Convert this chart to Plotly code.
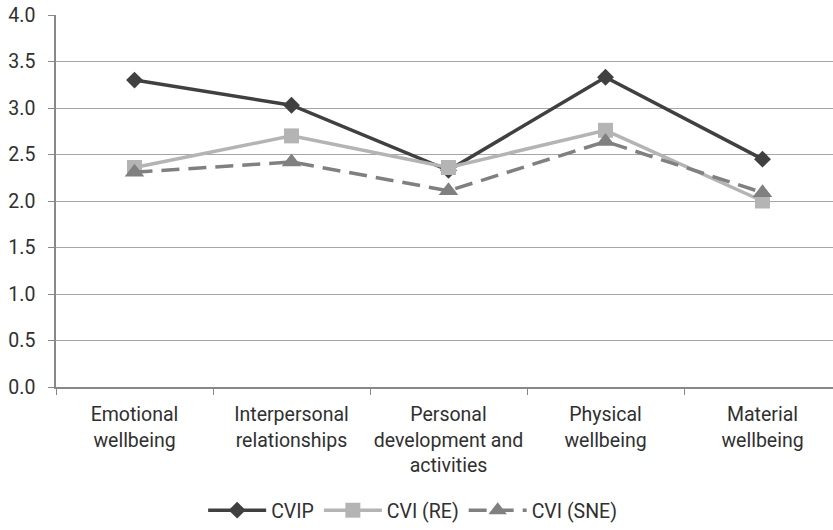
import plotly.graph_objects as go

categories = ["Emotional<br>wellbeing", "Interpersonal<br>relationships",
              "Personal<br>development and<br>activities", "Physical<br>wellbeing",
              "Material<br>wellbeing"]
cvip = [3.30, 3.03, 2.33, 3.33, 2.45]
cvi_re = [2.36, 2.70, 2.36, 2.76, 2.00]
cvi_sne = [2.31, 2.42, 2.11, 2.64, 2.09]
y_ticks = [0.0, 0.5, 1.0, 1.5, 2.0, 2.5, 3.0, 3.5, 4.0]

fig = go.Figure()
fig.add_trace(go.Scatter(x=categories, y=cvip, name="CVIP", mode="lines+markers",
                         line=dict(color="#404040", width=3.5),
                         marker=dict(symbol="diamond", size=13, color="#404040")))
fig.add_trace(go.Scatter(x=categories, y=cvi_re, name="CVI (RE)", mode="lines+markers",
                         line=dict(color="#b4b4b4", width=3.5),
                         marker=dict(symbol="square", size=15, color="#b4b4b4")))
fig.add_trace(go.Scatter(x=categories, y=cvi_sne, name="CVI (SNE)", mode="lines+markers",
                         line=dict(color="#808080", width=3.5, dash="18px,9px"),
                         marker=dict(symbol="triangle-up", size=17, color="#808080")))

font = dict(family="Roboto, Liberation Sans, sans-serif", size=19.5, color="#303030")
fig.update_layout(
    width=833, height=530,
    margin=dict(l=56, r=0, t=15, b=138),
    paper_bgcolor="white", plot_bgcolor="white",
    font=font,
    showlegend=True,
    legend=dict(orientation="h", x=0.459, xanchor="center", y=-0.332, yanchor="middle",
                font=font, itemwidth=58),
    xaxis=dict(type="category", range=[-0.5, 4.449], tickson="boundaries",
               ticks="outside", ticklen=6, tickcolor="#888888", tickangle=0,
               ticklabelstandoff=9,
               showline=True, linecolor="#888888", linewidth=1.5,
               showgrid=False, tickfont=font, fixedrange=True, automargin=False),
    yaxis=dict(range=[0, 4.0], tickvals=y_ticks, tickformat=".1f",
               ticks="outside", ticklen=6, tickcolor="#888888",
               ticklabelstandoff=9,
               showline=True, linecolor="#888888", linewidth=1.5,
               showgrid=True, gridcolor="#a6a6a6", gridwidth=1,
               zeroline=False, tickfont=font, automargin=False),
)
fig.write_html("out.html", config={"displayModeBar": False},
               post_script="document.body.style.margin='0';")
